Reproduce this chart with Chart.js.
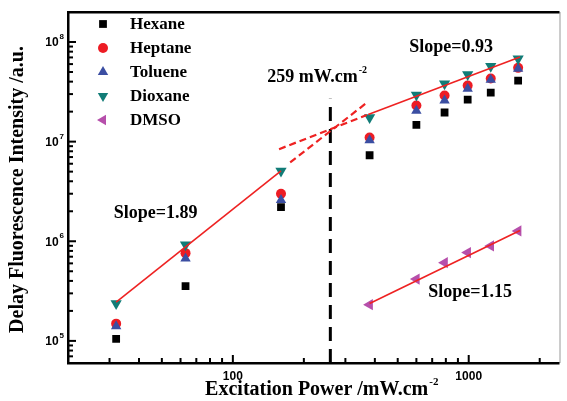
<!DOCTYPE html>
<html>
<head>
<meta charset="utf-8">
<script src="https://cdn.jsdelivr.net/npm/chart.js@4/dist/chart.umd.min.js"></script>
<style>
  html, body { margin: 0; padding: 0; background: #fff; }
  #chart { display: block; }
</style>
</head>
<body>
<canvas id="chart" width="567" height="401"></canvas>
<script>
// excitation power (mW/cm2)
const power = [32, 63, 160, 380, 600, 790, 990, 1240, 1620];
const dmsoPower = [380, 600, 790, 990, 1240, 1620];

// delay fluorescence intensity (a.u.)
const hexane  = [1.05e5, 3.55e5, 2.2e6, 7.3e6, 1.47e7, 1.96e7, 2.64e7, 3.1e7, 4.1e7];
const heptane = [1.49e5, 7.6e5, 3.0e6, 1.1e7, 2.3e7, 2.9e7, 3.65e7, 4.3e7, 5.5e7];
const toluene = [1.4e5, 6.7e5, 2.6e6, 1.03e7, 2.04e7, 2.58e7, 3.4e7, 4.17e7, 5.4e7];
const dioxane = [2.37e5, 9.2e5, 5.06e6, 1.75e7, 2.94e7, 3.8e7, 4.72e7, 5.72e7, 6.8e7];
const dmso    = [2.31e5, 4.17e5, 6.1e5, 7.7e5, 8.98e5, 1.27e6];

// fitted lines, end points
const fitLowX = [32, 160],   fitLowY = [2.45e5, 5.1e6];
const fitLowDashX = [175, 365], fitLowDashY = [6.2e6, 2.4e7];
const fitHighX = [375, 1650], fitHighY = [1.87e7, 7.06e7];
const fitHighDashX = [157, 370], fitHighDashY = [8.4e6, 1.85e7];
const fitDmsoX = [380, 1650], fitDmsoY = [2.37e5, 1.28e6];
const thresholdX = [259, 259], thresholdY = [6e4, 2.7e7];

// tick marks and labels
const yMajor = [1e5, 1e6, 1e7, 1e8];
const yExps = ['5', '6', '7', '8'];
const yMinor = [6e4, 7e4, 8e4, 9e4,
  2e5, 3e5, 4e5, 5e5, 6e5, 7e5, 8e5, 9e5,
  2e6, 3e6, 4e6, 5e6, 6e6, 7e6, 8e6, 9e6,
  2e7, 3e7, 4e7, 5e7, 6e7, 7e7, 8e7, 9e7, 2e8];
const xMajor = [100, 1000];
const xMajorLabels = ['100', '1000'];
const xMinor = [30, 40, 50, 60, 70, 80, 90,
  200, 300, 400, 500, 600, 700, 800, 900, 2000];

// text notes [text, x, y, align] in data units
const notes = [
  ['Slope=1.89', 47, 1.9e6, 'center'],
  ['Slope=0.93', 560, 8.8e7, 'left'],
  ['Slope=1.15', 673, 3.04e5, 'left'],
];

const pts = (xs, ys) => xs.map((x, i) => ({x: x, y: ys[i]}));

const serif = '"Liberation Serif", "Times New Roman", serif';
const sans = '"Liberation Sans", Arial, sans-serif';

function scatter(label, xs, ys, color, style, rot, r, order) {
  return {
    type: 'scatter', label: label, data: pts(xs, ys),
    backgroundColor: color, borderColor: color, borderWidth: 0,
    pointStyle: style, rotation: rot, pointRadius: r, order: order
  };
}
function fitLine(xs, ys, color, width, dash) {
  return {
    type: 'line', label: '', data: pts(xs, ys), borderColor: color,
    borderWidth: width, borderDash: dash || [], pointRadius: 0,
    fill: false, tension: 0, order: 0
  };
}

const datasets = [
  scatter('Hexane', power, hexane, '#000000', 'rect', 0, 5.5, 4),
  scatter('Heptane', power, heptane, '#ed1c24', 'circle', 0, 5, 3),
  scatter('Toluene', power, toluene, '#3b4ea2', 'triangle', 0, 6, 2),
  scatter('Dioxane', power, dioxane, '#117c77', 'triangle', 180, 6.5, 1),
  scatter('DMSO', dmsoPower, dmso, '#b64fab', 'triangle', -90, 6.5, 1),
  fitLine(fitLowX, fitLowY, '#ee2222', 1.6),
  fitLine(fitLowDashX, fitLowDashY, '#ee2222', 2.2, [7, 4]),
  fitLine(fitHighX, fitHighY, '#ee2222', 1.6),
  fitLine(fitHighDashX, fitHighDashY, '#ee2222', 2.2, [7, 4]),
  fitLine(fitDmsoX, fitDmsoY, '#ee2222', 1.6),
  fitLine(thresholdX, thresholdY, '#000000', 3, [14, 8]),
];

function marker(ctx, ds, x, y) {
  const r = ds.pointRadius;
  ctx.save();
  ctx.fillStyle = ds.backgroundColor;
  ctx.translate(x, y);
  ctx.rotate(ds.rotation * Math.PI / 180);
  ctx.beginPath();
  if (ds.pointStyle === 'rect') {
    const s = r * Math.SQRT1_2;
    ctx.rect(-s, -s, 2 * s, 2 * s);
  } else if (ds.pointStyle === 'circle') {
    ctx.arc(0, 0, r, 0, Math.PI * 2);
  } else {
    for (let k = 0; k < 3; k++) {
      const a = k * 2 * Math.PI / 3;
      ctx.lineTo(Math.sin(a) * r, -Math.cos(a) * r);
    }
    ctx.closePath();
  }
  ctx.fill();
  ctx.restore();
}

// text with a raised exponent after it
function supText(ctx, main, sup, x, y, font, supFont, align, rise) {
  ctx.font = font;
  const w1 = ctx.measureText(main).width;
  ctx.font = supFont;
  const w2 = ctx.measureText(sup).width;
  let x0 = x;
  if (align === 'center') x0 = x - (w1 + w2) / 2;
  if (align === 'right') x0 = x - (w1 + w2);
  ctx.textAlign = 'left';
  ctx.font = font;
  ctx.fillText(main, x0, y);
  ctx.font = supFont;
  ctx.fillText(sup, x0 + w1 + 1, y - rise);
}

const decor = {
  id: 'decor',
  afterDraw(chart) {
    const ctx = chart.ctx;
    const a = chart.chartArea;
    const xs = chart.scales.x, ys = chart.scales.y;
    ctx.save();

    // frame
    ctx.fillStyle = '#999';
    ctx.fillRect(a.right - 1, a.top, 1, a.bottom - a.top);
    ctx.fillStyle = '#000';
    ctx.fillRect(a.left - 1, a.top - 1, a.right - a.left, 2.5);
    ctx.fillRect(a.left - 1, a.top - 1, 2.5, a.bottom - a.top + 2);
    ctx.fillRect(a.left - 1, a.bottom - 1, a.right - a.left, 2.5);

    // inward ticks
    ctx.fillStyle = '#000';
    yMajor.forEach(v => ctx.fillRect(a.left, ys.getPixelForValue(v) - 1, 8, 2));
    yMinor.forEach(v => ctx.fillRect(a.left, ys.getPixelForValue(v) - 1, 5, 2));
    xMajor.forEach(v => ctx.fillRect(xs.getPixelForValue(v) - 1, a.bottom - 8, 2, 8));
    xMinor.forEach(v => ctx.fillRect(xs.getPixelForValue(v) - 1, a.bottom - 5, 2, 5));

    // tick labels
    ctx.textBaseline = 'middle';
    yMajor.forEach((v, i) => {
      const py = ys.getPixelForValue(v);
      supText(ctx, '10', yExps[i], a.left - 5, py + 1,
        'bold 12px ' + sans, 'bold 8px ' + sans, 'right', 6);
    });
    ctx.font = 'bold 12px ' + sans;
    ctx.textAlign = 'center';
    xMajor.forEach((v, i) => {
      ctx.fillText(xMajorLabels[i], xs.getPixelForValue(v), a.bottom + 14);
    });

    // axis titles
    supText(ctx, 'Excitation Power /mW.cm', '-2', (a.left + a.right) / 2 + 7, a.bottom + 27,
      'bold 20px ' + serif, 'bold 11px ' + serif, 'center', 8);
    ctx.save();
    ctx.translate(18, (a.top + a.bottom) / 2 + 2);
    ctx.rotate(-Math.PI / 2);
    ctx.font = 'bold 20px ' + serif;
    ctx.textAlign = 'center';
    ctx.fillText('Delay Fluorescence Intensity /a.u.', 0, 0);
    ctx.restore();

    // notes
    notes.forEach(n => {
      ctx.font = 'bold 18px ' + serif;
      ctx.textAlign = n[3];
      ctx.fillText(n[0], xs.getPixelForValue(n[1]), ys.getPixelForValue(n[2]));
    });
    supText(ctx, '259 mW.cm', '-2', xs.getPixelForValue(140), ys.getPixelForValue(4.4e7),
      'bold 18px ' + serif, 'bold 10px ' + serif, 'left', 7);

    // legend
    const legendSets = chart.data.datasets.filter(ds => ds.type === 'scatter');
    legendSets.forEach((ds, i) => {
      const ly = a.top + 12 + i * 24;
      marker(ctx, Object.assign({}, ds, {pointRadius: Math.min(ds.pointRadius, 6)}), a.left + 35, ly);
      ctx.fillStyle = '#000';
      ctx.font = 'bold 17px ' + serif;
      ctx.textAlign = 'left';
      ctx.fillText(ds.label, a.left + 62, ly + 1);
    });
    ctx.restore();
  }
};

new Chart(document.getElementById('chart'), {
  type: 'scatter',
  data: { datasets: datasets },
  options: {
    responsive: false,
    animation: false,
    devicePixelRatio: 1,
    layout: { padding: { top: 12, right: 2, left: 0, bottom: 0 } },
    plugins: { legend: { display: false }, tooltip: { enabled: false } },
    scales: {
      x: {
        type: 'logarithmic', min: 20, max: 2450,
        ticks: { display: false }, grid: { display: false }, border: { display: false },
        afterFit: s => { s.height = 38; }
      },
      y: {
        type: 'logarithmic', min: 6e4, max: 2e8,
        ticks: { display: false }, grid: { display: false }, border: { display: false },
        afterFit: s => { s.width = 68; }
      }
    }
  },
  plugins: [decor]
});
</script>
</body>
</html>
